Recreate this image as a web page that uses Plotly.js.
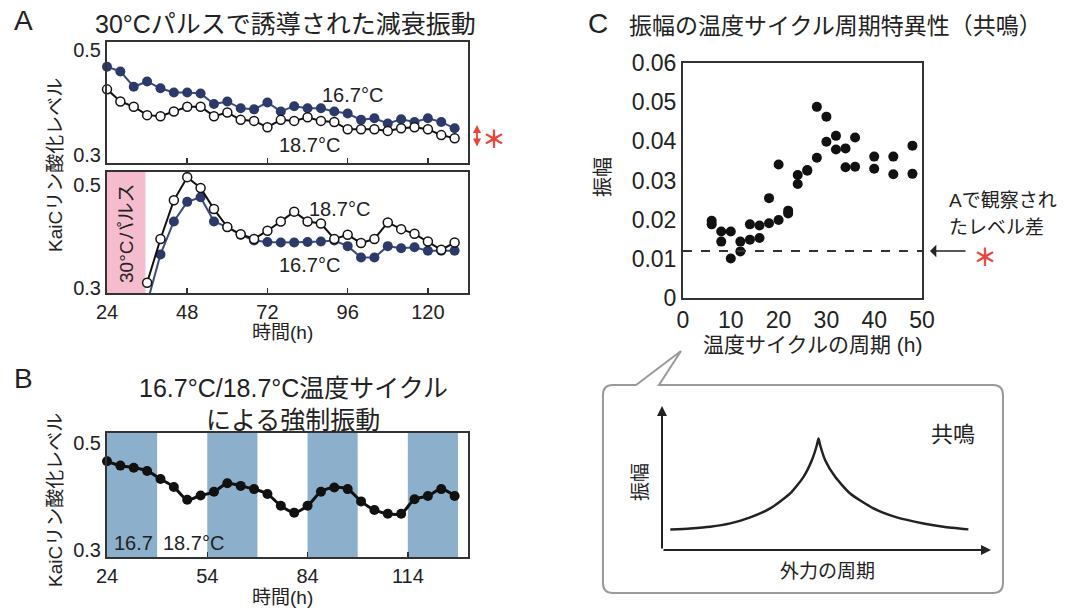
<!DOCTYPE html>
<html>
<head>
<meta charset="utf-8">
<script src="https://cdn.plot.ly/plotly-3.0.1.min.js"></script>
<style>
  html, body { margin: 0; padding: 0; background: #ffffff; }
  #chart { width: 1067px; height: 609px; }
</style>
</head>
<body>
<div id="chart"></div>
<script>
// ---------------- DATA ----------------
// Panel A (top): damped oscillation after 30°C pulse, hours
const hoursTopA = [24,28,32,36,40,44,48,52,56,60,64,68,72,76,80,84,88,92,96,100,104,108,112,116,120,124,128];
const topA_16_7 = [0.468,0.459,0.430,0.440,0.427,0.419,0.419,0.417,0.397,0.402,0.389,0.387,0.400,0.383,0.393,0.389,0.389,0.383,0.379,0.367,0.370,0.360,0.368,0.363,0.370,0.363,0.351];
const topA_18_7 = [0.425,0.402,0.392,0.376,0.374,0.383,0.392,0.392,0.374,0.381,0.367,0.365,0.353,0.367,0.365,0.372,0.365,0.363,0.349,0.349,0.349,0.346,0.351,0.353,0.349,0.338,0.332];

// Panel A (bottom)
const hoursBotA = [36,40,44,48,52,56,60,64,68,72,76,80,84,88,92,96,100,104,108,112,116,120,124,128];
const botA_18_7 = [0.310,0.395,0.470,0.515,0.494,0.453,0.418,0.404,0.395,0.411,0.429,0.448,0.429,0.425,0.395,0.403,0.387,0.395,0.427,0.414,0.405,0.390,0.374,0.388];
const botA_16_7 = [0.270,0.365,0.429,0.467,0.476,0.429,0.418,0.403,0.392,0.389,0.388,0.388,0.389,0.390,0.392,0.381,0.359,0.359,0.381,0.377,0.379,0.372,0.372,0.372];
const pulseStart = 24, pulseEnd = 35.5;

// Panel B: forced oscillation by temperature cycle
const hoursB = [24,28,32,36,40,44,48,52,56,60,64,68,72,76,80,84,88,92,96,100,104,108,112,116,120,124,128];
const forcedB = [0.466,0.458,0.454,0.448,0.433,0.418,0.394,0.402,0.409,0.425,0.420,0.414,0.405,0.383,0.370,0.383,0.409,0.417,0.414,0.391,0.375,0.368,0.368,0.395,0.401,0.414,0.401];
const coldBandStarts = [24,54,84,114];
const bandLength = 15;

// Panel C: amplitude vs temperature-cycle period
const periodC = [6,6,8,8,10,10,12,12,14,14,16,16,18,18,20,20,22,22,24,24,26,26,28,28,30,30,32,32,34,34,36,36,40,40,44,44,48,48];
const ampC = [0.0197,0.0188,0.0170,0.0144,0.0170,0.0101,0.0144,0.0119,0.0188,0.0149,0.0185,0.0153,0.0255,0.0191,0.0341,0.0199,0.0223,0.0216,0.0314,0.0291,0.0327,0.0325,0.0488,0.0358,0.0463,0.0399,0.0414,0.0379,0.0382,0.0334,0.0410,0.0335,0.0361,0.0330,0.0361,0.0316,0.0389,0.0317];
const levelDiffA = 0.012;

// Inset: schematic resonance curve (arbitrary units)
const insetX = [240,300,360,420,480,540,600,640,665,680,685,690,705,735,780,850,920,1000,1060,1135];
const insetY = [62,65,70,80,98,125,170,220,270,315,335,315,270,220,170,125,98,80,70,62];

// Tick labels
const xTicksA = [24,48,72,96,120];
const xTicksB = [24,54,84,114];
const yTicksAB = [0.3,0.5];

// ---------------- LAYOUT HELPERS ----------------
const W = 1067, H = 609;
const px = x => x / W;
const py = y => 1 - y / H;
const FONT = 'Liberation Sans, Noto Sans CJK JP, sans-serif';
const TXT = '#222222';
const NAVY = '#2b3a68';
const NAVYLINE = '#3b4b80';
const RED = '#e8453c';

function ann(text, x, y, size, extra) {
  return Object.assign({
    text: text, xref: 'paper', yref: 'paper', x: px(x), y: py(y),
    xanchor: 'center', yanchor: 'middle', showarrow: false,
    font: {family: FONT, size: size, color: TXT}
  }, extra || {});
}

const frame = {
  showline: true, mirror: true, linecolor: '#333333', linewidth: 2,
  zeroline: false, showgrid: false, ticks: 'inside', ticklen: 5,
  tickcolor: '#333333', tickwidth: 1.5,
  tickfont: {family: FONT, size: 20, color: TXT}
};

const domX_AB = [px(107), px(468)];

const traces = [
  // A top
  {x: hoursTopA, y: topA_16_7, xaxis: 'x', yaxis: 'y', mode: 'lines+markers', cliponaxis: false,
   line: {color: NAVYLINE, width: 2}, marker: {color: NAVY, size: 10}},
  {x: hoursTopA, y: topA_18_7, xaxis: 'x', yaxis: 'y', mode: 'lines+markers', cliponaxis: false,
   line: {color: '#111111', width: 2}, marker: {color: '#ffffff', size: 9, line: {color: '#111111', width: 1.5}}},
  // A bottom
  {x: hoursBotA, y: botA_16_7, xaxis: 'x2', yaxis: 'y2', mode: 'lines+markers', cliponaxis: true,
   line: {color: NAVYLINE, width: 2}, marker: {color: NAVY, size: 10}},
  {x: hoursBotA, y: botA_18_7, xaxis: 'x2', yaxis: 'y2', mode: 'lines+markers', cliponaxis: true,
   line: {color: '#111111', width: 2}, marker: {color: '#ffffff', size: 9, line: {color: '#111111', width: 1.5}}},
  // B
  {x: hoursB, y: forcedB, xaxis: 'x3', yaxis: 'y3', mode: 'lines+markers', cliponaxis: false,
   line: {color: '#111111', width: 3, shape: 'spline', smoothing: 0.8}, marker: {color: '#111111', size: 10}},
  // C scatter
  {x: periodC, y: ampC, xaxis: 'x4', yaxis: 'y4', mode: 'markers', cliponaxis: false,
   marker: {color: '#111111', size: 10}},
  // inset schematic
  {x: insetX, y: insetY, xaxis: 'x5', yaxis: 'y5', mode: 'lines',
   line: {color: '#222222', width: 2.5, shape: 'spline', smoothing: 0.6}}
];

// bubble path (rounded rectangle with a tail)
function P(x, y) { return px(x).toFixed(4) + ',' + py(y).toFixed(4); }
const bubblePath = 'M ' + P(613,385) + ' L ' + P(636,385) + ' L ' + P(681,351) + ' L ' + P(659,385) +
  ' L ' + P(993,385) + ' Q ' + P(1003,385) + ' ' + P(1003,395) +
  ' L ' + P(1003,583) + ' Q ' + P(1003,593) + ' ' + P(993,593) +
  ' L ' + P(613,593) + ' Q ' + P(603,593) + ' ' + P(603,583) +
  ' L ' + P(603,395) + ' Q ' + P(603,385) + ' ' + P(613,385) + ' Z';

const shapes = [];
coldBandStarts.forEach(s => shapes.push({
  type: 'rect', xref: 'x3', yref: 'y3 domain', x0: s, x1: s + bandLength, y0: 0, y1: 1,
  fillcolor: '#8cafcb', line: {width: 0}, layer: 'below'
}));
shapes.push({type: 'rect', xref: 'x2', yref: 'y2 domain', x0: pulseStart, x1: pulseEnd, y0: 0, y1: 1,
  fillcolor: '#f5bccd', line: {width: 0}, layer: 'below'});
shapes.push({type: 'line', xref: 'x4', yref: 'y4', x0: 0, x1: 50, y0: levelDiffA, y1: levelDiffA,
  line: {color: '#333333', width: 2, dash: 'dash'}});
shapes.push({type: 'path', xref: 'paper', yref: 'paper', path: bubblePath,
  fillcolor: 'rgba(255,255,255,0)', line: {color: '#9a9a9a', width: 2}});

const redStar = {family: 'Noto Sans CJK JP', size: 24, color: RED, weight: 700};

const annotations = [
  // panel letters
  ann('A', 23, 21, 28), ann('B', 23, 378, 28), ann('C', 598, 24, 28),
  // titles
  ann('30°Cパルスで誘導された減衰振動', 285, 24, 25),
  ann('16.7°C/18.7°C温度サイクル', 293, 388, 25),
  ann('による強制振動', 293, 420, 25),
  ann('振幅の温度サイクル周期特異性（共鳴）', 835, 26, 23),
  // axis titles
  ann('KaiCリン酸化レベル', 55, 165, 19, {textangle: -90}),
  ann('KaiCリン酸化レベル', 55, 500, 19, {textangle: -90}),
  ann('時間(h)', 282, 332, 19),
  ann('時間(h)', 282, 597, 19),
  ann('振幅', 603, 177, 20, {textangle: -90}),
  ann('温度サイクルの周期 (h)', 812, 344, 21),
  // series labels
  ann('16.7°C', 352, 95, 20), ann('18.7°C', 309, 145, 20),
  ann('18.7°C', 339, 209, 20), ann('16.7°C', 309, 265, 20),
  ann('30°Cパルス', 127, 234, 19, {textangle: -90}),
  ann('16.7', 133, 543, 20), ann('18.7°C', 193, 543, 20),
  // red marks
  {text: '', xref: 'paper', yref: 'paper', x: px(477), y: py(125), ax: 0, ay: 23,
   showarrow: true, arrowside: 'end+start', arrowhead: 2, arrowsize: 0.9, arrowwidth: 1.8, arrowcolor: RED},
  ann('<b>＊</b>', 494, 137, 24, {font: redStar}),
  // C annotation
  ann('Aで観察され', 947, 200, 19, {xanchor: 'left'}),
  ann('たレベル差', 947, 227, 19, {xanchor: 'left'}),
  {text: '', xref: 'paper', yref: 'paper', x: px(930), y: py(251), ax: 37, ay: 0,
   showarrow: true, arrowhead: 1, arrowsize: 1.4, arrowwidth: 1.5, arrowcolor: '#222222'},
  ann('<b>＊</b>', 985, 256, 24, {font: redStar}),
  // inset
  {text: '', xref: 'paper', yref: 'paper', x: px(662), y: py(406), ax: 0, ay: 144,
   showarrow: true, arrowhead: 2, arrowsize: 1, arrowwidth: 2, arrowcolor: '#222222'},
  {text: '', xref: 'paper', yref: 'paper', x: px(991), y: py(550), ax: -329, ay: 0,
   showarrow: true, arrowhead: 2, arrowsize: 1, arrowwidth: 2, arrowcolor: '#222222'},
  ann('振幅', 640, 482, 19, {textangle: -90}),
  ann('外力の周期', 827, 571, 19),
  ann('共鳴', 953, 434, 22)
];

const layout = {
  width: W, height: H, margin: {l: 0, r: 0, t: 0, b: 0},
  paper_bgcolor: '#ffffff', plot_bgcolor: 'rgba(0,0,0,0)', showlegend: false,
  font: {family: FONT, color: TXT},
  xaxis: Object.assign({}, frame, {domain: domX_AB, anchor: 'y', range: [24, 132], tickvals: [48,72,96,120], showticklabels: false}),
  yaxis: Object.assign({}, frame, {domain: [py(163), py(42)], anchor: 'x', range: [0.285, 0.515], tickvals: yTicksAB, ticktext: ['0.3','0.5'], ticks: ''}),
  xaxis2: Object.assign({}, frame, {domain: domX_AB, anchor: 'y2', range: [24, 132], tickvals: xTicksA}),
  yaxis2: Object.assign({}, frame, {domain: [py(293), py(172)], anchor: 'x2', range: [0.29, 0.525], tickvals: yTicksAB, ticktext: ['0.3','0.5'], ticks: ''}),
  xaxis3: Object.assign({}, frame, {domain: domX_AB, anchor: 'y3', range: [24, 132], tickvals: xTicksB}),
  yaxis3: Object.assign({}, frame, {domain: [py(557), py(433)], anchor: 'x3', range: [0.287, 0.519], tickvals: yTicksAB, ticktext: ['0.3','0.5'], ticks: ''}),
  xaxis4: Object.assign({}, frame, {domain: [px(683), px(922)], anchor: 'y4', range: [0, 50], dtick: 10, tick0: 0, ticks: '', tickfont: {family: FONT, size: 23, color: TXT}}),
  yaxis4: Object.assign({}, frame, {domain: [py(298), py(63)], anchor: 'x4', range: [0, 0.06], dtick: 0.01, tick0: 0, ticks: '', tickfont: {family: FONT, size: 23, color: TXT}}),
  xaxis5: {domain: [px(662), px(990)], anchor: 'y5', range: [215, 1200], visible: false, fixedrange: true},
  yaxis5: {domain: [py(550), py(407)], anchor: 'x5', range: [0, 430], visible: false, fixedrange: true},
  shapes: shapes,
  annotations: annotations
};

Plotly.newPlot('chart', traces, layout, {displayModeBar: false, staticPlot: true});
</script>
</body>
</html>
